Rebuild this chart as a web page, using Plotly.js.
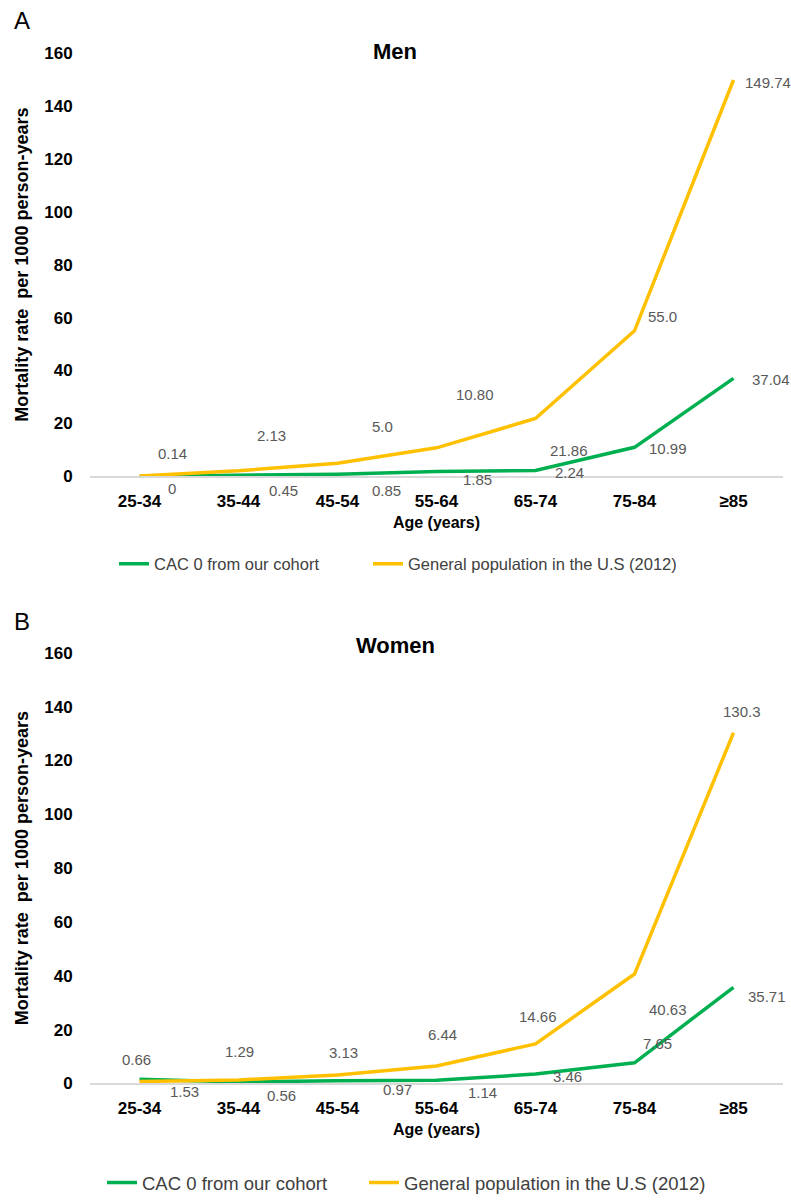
<!DOCTYPE html>
<html>
<head>
<meta charset="utf-8">
<script src="https://cdn.plot.ly/plotly-3.0.1.min.js"></script>
<style>html,body{margin:0;padding:0;background:#fff;}#chart{width:791px;height:1202px;}</style>
</head>
<body>
<div id="chart"></div>
<script>
// ---- data ----
const categories = ['25-34', '35-44', '45-54', '55-64', '65-74', '75-84', '\u226585'];
const menCac = [0, 0.45, 0.85, 1.85, 2.24, 10.99, 37.04];
const menGen = [0.14, 2.13, 5.0, 10.80, 21.86, 55.0, 149.74];
const womenCac = [1.53, 0.56, 0.97, 1.14, 3.46, 7.65, 35.71];
const womenGen = [0.66, 1.29, 3.13, 6.44, 14.66, 40.63, 130.3];
const menCacLabels = ['0', '0.45', '0.85', '1.85', '2.24', '10.99', '37.04'];
const menGenLabels = ['0.14', '2.13', '5.0', '10.80', '21.86', '55.0', '149.74'];
const womenCacLabels = ['1.53', '0.56', '0.97', '1.14', '3.46', '7.65', '35.71'];
const womenGenLabels = ['0.66', '1.29', '3.13', '6.44', '14.66', '40.63', '130.3'];
const seriesNames = ['CAC 0 from our cohort', 'General population in the U.S (2012)'];
const panelTitles = ['Men', 'Women'];
const panelLetters = ['A', 'B'];
const yTitle = 'Mortality rate \u00a0per 1000 person-years';
const xTitle = 'Age (years)';

// ---- styling (label offsets in px: [dx, dyUp]) ----
const menGenOff = [[33,23],[33,35],[45,37],[38,53],[33,-32],[28,14],[34,-3]];
const menCacOff = [[32,-12],[45,-15],[49,-16],[41,-8],[34,-2],[33,-1],[37,-1]];
const womenGenOff = [[-3,22],[1,28],[6,22],[6,32],[2,27],[33,-35],[8,21]];
const womenCacOff = [[45,-12],[43,-14],[60,-9],[46,-12],[32,-2],[23,19],[33,-9]];

const GREEN = '#00B050', ORANGE = '#FFC000';
const FONT = 'Liberation Sans, Arial, sans-serif';
const W = 791, H = 1202;
const px = v => v / W;
const py = v => 1 - v / H;

function line(y, name, color, xa, ya, leg) {
  return {
    x: categories, y: y, name: name, type: 'scatter', mode: 'lines',
    line: {color: color, width: 3.5}, xaxis: xa, yaxis: ya, legend: leg,
    hoverinfo: 'x+y'
  };
}

const data = [
  line(menCac, seriesNames[0], GREEN, 'x', 'y', 'legend'),
  line(menGen, seriesNames[1], ORANGE, 'x', 'y', 'legend2'),
  line(womenCac, seriesNames[0], GREEN, 'x2', 'y2', 'legend3'),
  line(womenGen, seriesNames[1], ORANGE, 'x2', 'y2', 'legend4')
];

const annotations = [];
function addLabels(vals, labels, offs, xr, yr) {
  vals.forEach((v, i) => {
    annotations.push({
      x: categories[i], y: v, xref: xr, yref: yr, text: labels[i], showarrow: false,
      xshift: offs[i][0], yshift: offs[i][1], borderpad: 0,
      font: {family: FONT, size: 15, color: '#595959'}
    });
  });
}
addLabels(menGen, menGenLabels, menGenOff, 'x', 'y');
addLabels(menCac, menCacLabels, menCacOff, 'x', 'y');
addLabels(womenGen, womenGenLabels, womenGenOff, 'x2', 'y2');
addLabels(womenCac, womenCacLabels, womenCacOff, 'x2', 'y2');

[[52, 21], [648, 624]].forEach((p, k) => {
  annotations.push({xref: 'paper', yref: 'paper', x: px(395), y: py(p[0]), text: panelTitles[k],
    showarrow: false, xanchor: 'center', yanchor: 'middle',
    font: {family: FONT, size: 22, color: '#000', weight: 'bold'}});
  annotations.push({xref: 'paper', yref: 'paper', x: px(12), y: py(p[1]), text: panelLetters[k],
    showarrow: false, xanchor: 'left', yanchor: 'middle',
    font: {family: FONT, size: 24, color: '#000'}});
});

function xax(anchor) {
  return {
    domain: [px(90), px(783)], anchor: anchor, type: 'category', range: [-0.5, 6.5],
    showline: true, linecolor: '#D9D9D9', linewidth: 1.5, showgrid: false, zeroline: false,
    ticks: 'outside', ticklen: 9, tickcolor: 'rgba(0,0,0,0)',
    tickfont: {family: FONT, size: 17, color: '#000', weight: 'bold'},
    title: {text: xTitle, standoff: 6, font: {family: FONT, size: 16, color: '#000', weight: 'bold'}}
  };
}
function yax(anchor, top, bottom) {
  return {
    domain: [py(bottom), py(top)], anchor: anchor, range: [0, 160], dtick: 20,
    showline: false, showgrid: false, zeroline: false,
    ticks: 'outside', ticklen: 13, tickcolor: 'rgba(0,0,0,0)',
    tickfont: {family: FONT, size: 17, color: '#000', weight: 'bold'},
    title: {text: yTitle, standoff: 10,
      font: {family: FONT, size: 18, color: '#000', weight: 'bold'}}
  };
}
function leg(x, y, size) {
  return {
    orientation: 'h', x: px(x), y: py(y), xanchor: 'left', yanchor: 'middle',
    font: {family: FONT, size: size, color: '#404040'}, bgcolor: 'rgba(0,0,0,0)',
    itemclick: false, itemdoubleclick: false
  };
}

const layout = {
  width: W, height: H, margin: {l: 0, r: 0, t: 0, b: 0},
  paper_bgcolor: '#fff', plot_bgcolor: '#fff', font: {family: FONT},
  xaxis: xax('y'), yaxis: yax('x', 53, 478),
  xaxis2: xax('y2'), yaxis2: yax('x2', 655, 1087),
  legend: leg(114, 566, 16.5), legend2: leg(368, 566, 16.5),
  legend3: leg(102, 1187, 18.5), legend4: leg(364, 1187, 18.5),
  annotations: annotations, showlegend: true
};

Plotly.newPlot('chart', data, layout, {staticPlot: true, displayModeBar: false});
</script>
</body>
</html>
